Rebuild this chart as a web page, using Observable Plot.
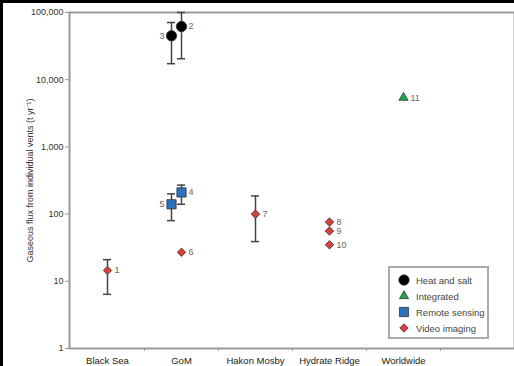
<!DOCTYPE html>
<html>
<head>
<meta charset="utf-8">
<script src="https://cdn.jsdelivr.net/npm/d3@7"></script>
<script src="https://cdn.jsdelivr.net/npm/@observablehq/plot@0.6"></script>
<style>
  html, body { margin: 0; padding: 0; background: #fff; }
  #wrap { position: relative; width: 511px; height: 363px; border-top: 3px solid #000; border-left: 3px solid #000; font-family: "Liberation Sans", Arial, sans-serif; }
  #legend { position: absolute; left: 385px; top: 263px; width: 97px; height: 69px; border: 2px solid #aaa; background: #fff; font-size: 9.5px; color: #444; }
  #legend .row { position: absolute; left: 8px; height: 14px; display: flex; align-items: center; }
  #legend .row svg { margin-right: 6px; }
</style>
</head>
<body>
<div id="wrap"></div>
<script>
// ---- data ----
const categories = ["Black Sea", "GoM", "Hakon Mosby", "Hydrate Ridge", "Worldwide", ""];
const ids     = [1, 2, 3, 4, 5, 6, 7, 8, 9, 10, 11];
const sites   = ["Black Sea", "GoM", "GoM", "GoM", "GoM", "GoM", "Hakon Mosby", "Hydrate Ridge", "Hydrate Ridge", "Hydrate Ridge", "Worldwide"];
const methods = ["Video imaging", "Heat and salt", "Heat and salt", "Remote sensing", "Remote sensing", "Video imaging", "Video imaging", "Video imaging", "Video imaging", "Video imaging", "Integrated"];
const flux    = [14.5, 62000, 45000, 210, 140, 27, 100, 76, 56, 35, 5400];
const errLow  = [6.4, 20500, 17300, 140, 80, null, 39, null, null, null, null];
const errHigh = [21, 100000, 71000, 270, 200, null, 186, null, null, null, null];
const shiftedLeft = [3, 5];
const legendMethods = ["Heat and salt", "Integrated", "Remote sensing", "Video imaging"];
const yTicks = [1, 10, 100, 1000, 10000, 100000];

// ---- styles ----
const colors = {"Heat and salt": "#000000", "Integrated": "#1fa64a", "Remote sensing": "#2a72bd", "Video imaging": "#d8403b"};
const diamond = {draw(ctx, size) { const s = Math.sqrt(size / 2); ctx.moveTo(0, -s); ctx.lineTo(s, 0); ctx.lineTo(0, s); ctx.lineTo(-s, 0); ctx.closePath(); }};
const symbols = {"Heat and salt": d3.symbolCircle, "Integrated": d3.symbolTriangle, "Remote sensing": d3.symbolSquare, "Video imaging": diamond};
const radii = {"Heat and salt": 5.2, "Integrated": 3.4, "Remote sensing": 5.2, "Video imaging": 3.4};

const rows = ids.map((id, i) => ({id, site: sites[i], method: methods[i], flux: flux[i], lo: errLow[i], hi: errHigh[i], left: shiftedLeft.includes(id)}));
const errRows = rows.filter(d => d.lo != null);
const SHIFT = -10;

const marks = [
  Plot.frame({stroke: "#9a9a9a", strokeWidth: 2}),
  Plot.axisY({ticks: yTicks, tickFormat: d3.format(","), tickSize: 4, tickPadding: 2, fontSize: 9, stroke: "#999", fill: "#333",
    label: "Gaseous flux from individual vents (t yr\u207B\u00B9)", labelAnchor: "center", labelArrow: "none", labelOffset: 43}),
  Plot.axisX({tickSize: 0, tickPadding: 9, fontSize: 9.5, fill: "#222", label: null}),
  Plot.ruleX(categories.slice(0, 5), {x: d => d, dx: 37, y1: 1, y2: 1, insetBottom: -3, stroke: "#999"})
];

for (const left of [false, true]) {
  const dx = left ? SHIFT : 0;
  const er = errRows.filter(d => d.left === left);
  marks.push(
    Plot.ruleX(er, {x: "site", y1: "lo", y2: "hi", dx, stroke: "#444", strokeWidth: 1.5}),
    Plot.tickY(er, {x: "site", y: "lo", dx, insetLeft: 33, insetRight: 33, stroke: "#444", strokeWidth: 1.5}),
    Plot.tickY(er, {x: "site", y: "hi", dx, insetLeft: 33, insetRight: 33, stroke: "#444", strokeWidth: 1.5})
  );
}
for (const m of legendMethods) {
  for (const left of [false, true]) {
    const pts = rows.filter(d => d.method === m && d.left === left);
    if (!pts.length) continue;
    marks.push(Plot.dot(pts, {x: "site", y: "flux", dx: left ? SHIFT : 0, symbol: symbols[m], r: radii[m], fill: colors[m], stroke: "#333", strokeWidth: 0.8}));
  }
}
marks.push(
  Plot.text(rows.filter(d => !d.left), {x: "site", y: "flux", text: "id", dx: 7, textAnchor: "start", fill: "#666", fontSize: 9}),
  Plot.text(rows.filter(d => d.left), {x: "site", y: "flux", text: "id", dx: SHIFT - 7, textAnchor: "end", fill: "#666", fontSize: 9})
);

const chart = Plot.plot({
  width: 511, height: 363,
  marginLeft: 66, marginTop: 9, marginRight: 0, marginBottom: 18,
  style: {fontFamily: "'Liberation Sans', Arial, sans-serif", background: "#fff"},
  x: {type: "band", domain: categories, padding: 0, axis: null},
  y: {type: "log", domain: [1, 100000], axis: null},
  marks
});
const wrap = document.getElementById("wrap");
wrap.appendChild(chart);

// legend (HTML overlay inside the plot area)
const legend = document.createElement("div");
legend.id = "legend";
legendMethods.forEach((m, i) => {
  const row = document.createElement("div");
  row.className = "row";
  row.style.top = (5 + i * 16) + "px";
  const s = d3.create("svg").attr("width", 12).attr("height", 12);
  const sym = d3.symbol(symbols[m]).size(Math.PI * radii[m] * radii[m]);
  s.append("path").attr("transform", "translate(6,6)").attr("d", sym()).attr("fill", colors[m]).attr("stroke", "#333").attr("stroke-width", 0.8);
  row.appendChild(s.node());
  const t = document.createElement("span");
  t.textContent = m;
  row.appendChild(t);
  legend.appendChild(row);
});
wrap.appendChild(legend);
</script>
</body>
</html>
